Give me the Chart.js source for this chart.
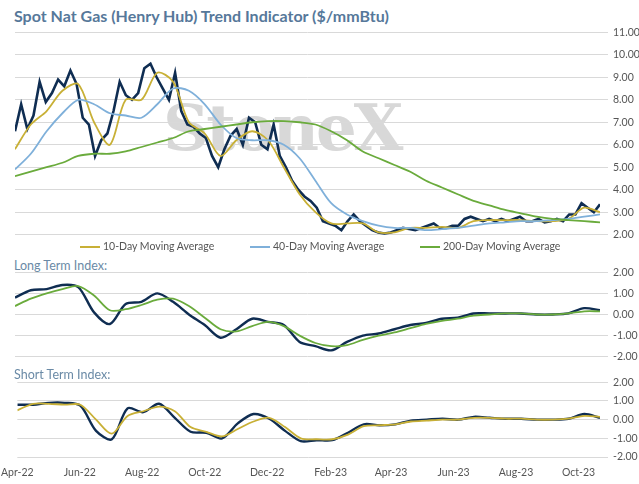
<!DOCTYPE html>
<html><head><meta charset="utf-8">
<script src="https://cdn.jsdelivr.net/npm/chart.js@4"></script>
<style>
body{margin:0;width:639px;height:484px;background:#fff;position:relative;overflow:hidden;font-family:Lato,"Noto Sans",sans-serif}
canvas{position:absolute;left:0}
.t{position:absolute;white-space:nowrap}
#title{left:14px;top:6px;font-size:16px;font-weight:bold;color:#56789a}
.sub{left:14px;font-size:12.5px;color:#6a8aa6}
#legend{top:240px;left:0;width:639px;font-size:10.5px;color:#555}
.li{position:absolute;top:0}
.li span{display:inline-block;width:20px;height:2px;vertical-align:middle;margin-right:3px}
#wm{left:163px;top:90px;font-family:"DejaVu Serif",serif;font-size:64px;font-weight:bold;color:#c8c8c8;opacity:.7;letter-spacing:-3px}
</style></head><body>
<div class="t" id="title">Spot Nat Gas (Henry Hub) Trend Indicator ($/mmBtu)</div>
<div class="t" id="wm">StoneX</div>
<canvas id="c1" width="639" height="225" style="top:21px"></canvas>
<div class="t" id="legend">
 <div class="li" style="left:80px"><span style="background:#c8b036"></span>10-Day Moving Average</div>
 <div class="li" style="left:250px"><span style="background:#7fb0da"></span>40-Day Moving Average</div>
 <div class="li" style="left:420px"><span style="background:#6aab3c"></span>200-Day Moving Average</div>
</div>
<div class="t sub" style="top:258px">Long Term Index:</div>
<canvas id="c2" width="639" height="107" style="top:261px"></canvas>
<div class="t sub" style="top:367px">Short Term Index:</div>
<canvas id="c3" width="639" height="111" style="top:371px"></canvas>
<script>
const spanDays = 569;
const spot = [6.6,7.8,6.7,7.3,8.8,7.9,8.3,8.9,8.6,9.3,8.7,7.2,6.9,5.5,6.2,6.5,7.5,8.8,8.2,8.0,8.3,9.4,9.6,9.0,8.5,8.0,9.2,7.5,6.9,6.8,6.5,6.3,5.5,5.0,5.8,6.4,6.7,6.0,7.2,7.0,6.0,5.8,6.9,5.5,5.0,4.4,4.0,3.7,3.5,3.2,2.6,2.5,2.4,2.2,2.6,2.9,2.6,2.4,2.2,2.1,2.05,2.1,2.2,2.3,2.25,2.2,2.3,2.4,2.5,2.3,2.3,2.4,2.4,2.7,2.8,2.7,2.6,2.7,2.6,2.7,2.6,2.7,2.8,2.6,2.6,2.7,2.55,2.6,2.7,2.6,2.9,2.9,3.4,3.2,3.0,3.35];
const ma10 = [5.8,6.9,7.5,8.4,8.7,7.0,6.0,8.0,8.0,9.2,8.8,7.0,6.5,5.5,6.2,6.6,6.2,5.0,3.8,3.0,2.5,2.5,2.5,2.1,2.1,2.3,2.3,2.35,2.3,2.6,2.65,2.65,2.65,2.6,2.6,2.7,3.2,3.0];
const ma40 = [4.9,5.6,6.6,7.4,8.0,7.8,7.4,7.3,7.2,7.8,8.5,8.4,7.8,6.9,6.3,6.2,6.2,6.0,5.4,4.4,3.4,2.9,2.6,2.4,2.3,2.3,2.2,2.25,2.3,2.4,2.5,2.55,2.6,2.6,2.65,2.7,2.8,2.9];
const ma200 = [4.6,4.8,5.0,5.2,5.5,5.6,5.6,5.7,5.9,6.1,6.3,6.6,6.7,6.8,6.9,7.0,7.05,7.05,7.0,6.9,6.6,6.2,5.7,5.4,5.1,4.8,4.4,4.1,3.8,3.5,3.3,3.1,2.95,2.8,2.7,2.65,2.6,2.55];
const longIdx = [0.8,1.15,1.2,1.4,1.3,0.1,-0.45,0.5,0.6,1.0,0.6,0.0,-0.5,-1.1,-0.7,-0.2,-0.35,-0.5,-1.3,-1.5,-1.7,-1.3,-1.0,-0.9,-0.7,-0.5,-0.4,-0.2,-0.15,0.05,0.05,0.05,0.05,0.0,0.0,0.05,0.3,0.2];
const longSig = [0.4,0.75,1.0,1.2,1.35,0.9,0.2,0.25,0.45,0.7,0.75,0.4,-0.15,-0.7,-0.8,-0.55,-0.35,-0.55,-1.0,-1.35,-1.5,-1.45,-1.2,-1.0,-0.85,-0.65,-0.45,-0.3,-0.2,-0.05,0.0,0.05,0.05,0.0,0.0,0.05,0.15,0.15];
const shortIdx = [0.8,0.8,0.9,0.9,0.75,-0.6,-1.05,0.6,0.4,0.85,0.1,-0.65,-0.7,-1.0,-0.2,0.3,0.05,-0.6,-1.15,-1.1,-1.1,-0.7,-0.25,-0.3,-0.25,-0.05,0.0,0.05,0.0,0.15,0.1,0.05,0.05,0.0,0.0,0.05,0.3,0.1];
const shortSig = [0.5,0.85,0.85,0.8,0.8,0.0,-0.75,0.2,0.45,0.7,0.45,-0.4,-0.65,-0.9,-0.5,-0.1,0.1,-0.4,-1.0,-1.05,-1.05,-0.8,-0.35,-0.3,-0.25,-0.1,-0.05,0.0,0.0,0.1,0.1,0.05,0.05,0.0,0.0,0.05,0.2,0.15];
const tickLabels = ["Apr-22","Jun-22","Aug-22","Oct-22","Dec-22","Feb-23","Apr-23","Jun-23","Aug-23","Oct-23"];

const start = Date.UTC(2022,3,1);
const tickDays = tickLabels.map((l,i)=>Math.round((Date.UTC(2022,3+2*i,1)-start)/864e5));
const pts = a => a.map((v,i)=>({x:i*spanDays/(a.length-1), y:v}));
const ds = (a,c,w,t) => ({data:pts(a),borderColor:c,borderWidth:w,pointRadius:0,tension:t});
const NAVY="#0f2d52", GOLD="#c8b036", BLUE="#7fb0da", GREEN="#6aab3c";

function make(id, datasets, ymin, ymax, showX, pad){
  new Chart(document.getElementById(id), {
    type:"line",
    data:{datasets},
    options:{
      responsive:false, animation:false,
      layout:{padding:pad},
      plugins:{legend:{display:false},tooltip:{enabled:false}},
      scales:{
        x:{type:"linear",min:0,max:spanDays,display:showX,
           grid:{display:false},border:{display:false},
           afterBuildTicks:ax=>{ax.ticks=tickDays.map(v=>({value:v}));},
           afterFit:ax=>{if(showX) ax.height=25;},
           ticks:{autoSkip:false,maxRotation:0,color:"#555",font:{family:"Lato",size:10.5},padding:1,
             callback:v=>tickLabels[tickDays.indexOf(v)]}},
        y:{position:"right",min:ymin,max:ymax,
           grid:{color:"#d9d9d9"},border:{display:false},
           afterFit:ax=>{ax.width=39;},
           ticks:{stepSize:1,color:"#555",font:{family:"Lato",size:10.5},padding:5,
             callback:v=>v.toFixed(2)}}
      }
    }
  });
}
make("c1",[ds(ma200,GREEN,1.8,0.3),ds(ma40,BLUE,1.8,0.3),ds(ma10,GOLD,1.8,0.3),ds(spot,NAVY,2.6,0)],2,11,false,{left:15,top:7,bottom:6,right:0});
make("c2",[ds(longSig,GREEN,1.8,0.3),ds(longIdx,NAVY,2.4,0.3)],-2,2,false,{left:15,top:8,bottom:6,right:0});
make("c3",[ds(shortSig,GOLD,1.8,0.3),ds(shortIdx,NAVY,2.4,0.3)],-2,2,true,{left:15,top:8,bottom:0,right:0});
</script>
</body></html>
